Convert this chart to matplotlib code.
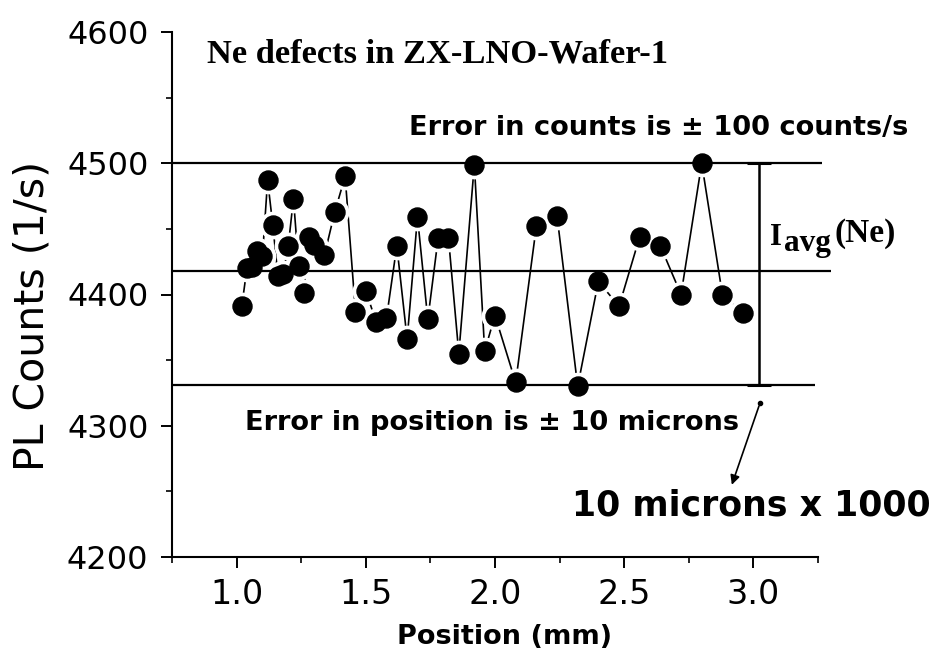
import matplotlib
matplotlib.use('Agg')
import matplotlib.pyplot as plt
from matplotlib.ticker import MultipleLocator

plt.rcParams['font.family'] = 'DejaVu Sans'

# PL counts along the wafer
position = [1.02, 1.04, 1.06, 1.08, 1.10, 1.12, 1.14, 1.16, 1.18, 1.20,
            1.22, 1.24, 1.26, 1.28, 1.30, 1.34, 1.38, 1.42, 1.46, 1.50,
            1.54, 1.58, 1.62, 1.66, 1.70, 1.74, 1.78, 1.82, 1.86, 1.92,
            1.96, 2.00, 2.08, 2.16, 2.24, 2.32, 2.40, 2.48, 2.56, 2.64,
            2.72, 2.80, 2.88, 2.96]
counts = [4391, 4420, 4421, 4433, 4429, 4487, 4453, 4414, 4416, 4437,
          4473, 4422, 4401, 4444, 4438, 4430, 4463, 4490, 4387, 4403,
          4379, 4382, 4437, 4366, 4459, 4381, 4443, 4443, 4355, 4499,
          4357, 4384, 4333, 4452, 4460, 4330, 4410, 4391, 4444, 4437,
          4400, 4500, 4400, 4386]

upper_lim = 4500
avg_level = 4418
lower_lim = 4331
errbar_x = 3.02

xticks = [1.0, 1.5, 2.0, 2.5, 3.0]
yticks = [4200, 4300, 4400, 4500, 4600]

fig = plt.figure(figsize=(9.34, 6.52), dpi=100)
ax = fig.add_axes([172/934, 1-557/652, 646/934, 525/652])

# line with gaps round the markers (white halo under the black dots)
ax.plot(position, counts, color='black', lw=1.2, zorder=1)
ax.plot(position, counts, ls='none', marker='o', ms=20, mfc='white', mec='none', zorder=2)
ax.hlines([upper_lim, avg_level, lower_lim], 0.75, [3.265, 3.30, 3.24],
          colors='black', lw=1.6, zorder=2.5, clip_on=False)
ax.plot(position, counts, ls='none', marker='o', ms=13.7, mfc='black', mec='black', zorder=3)

mid = (upper_lim + lower_lim) / 2
ax.errorbar([errbar_x], [mid], yerr=[(upper_lim - lower_lim) / 2], fmt='none',
            ecolor='black', elinewidth=1.8, capsize=8.5, capthick=2.2, zorder=3, clip_on=False)

ax.set_xlim(0.75, 3.25)
ax.set_ylim(4200, 4600)
ax.set_xticks(xticks)
ax.set_yticks(yticks)
ax.xaxis.set_minor_locator(MultipleLocator(0.25))
ax.yaxis.set_minor_locator(MultipleLocator(50))
for s in ['top', 'right']:
    ax.spines[s].set_visible(False)
for s in ['left', 'bottom']:
    ax.spines[s].set_linewidth(1.5)
ax.tick_params(which='major', direction='out', length=8, width=1.4)
ax.tick_params(which='minor', direction='out', length=4.5, width=1.2)
ax.tick_params(axis='x', labelsize=24, pad=7)
ax.tick_params(axis='y', labelsize=23, pad=9)

ax.set_ylabel('PL Counts (1/s)', fontsize=29.5)
ax.yaxis.set_label_coords(-0.185, 0.46)
ax.set_xlabel('Position (mm)', fontsize=19.5, fontweight='bold')
ax.xaxis.set_label_coords(0.515, -0.128)

serif = 'Liberation Serif'
ax.text(0.884, 4577, 'Ne defects in ZX-LNO-Wafer-1', fontsize=24.8, fontweight='bold',
        family=serif, va='baseline')
ax.text(1.667, 4521.5, 'Error in counts is ± 100 counts/s', fontsize=19.6, fontweight='bold',
        va='baseline')
ax.text(1.031, 4297, 'Error in position is ± 10 microns', fontsize=19.6, fontweight='bold',
        va='baseline', clip_on=False)
ax.text(2.297, 4232, '10 microns x 1000', fontsize=25, fontweight='bold',
        va='baseline', clip_on=False)

# I_avg (Ne) label, subscript drawn as its own text
ax.text(3.066, 4438, 'I', fontsize=22, fontweight='bold', family=serif,
        va='baseline', clip_on=False)
ax.text(3.117, 4433, 'avg', fontsize=22.5, fontweight='bold', family=serif,
        va='baseline', clip_on=False)
ax.text(3.314, 4440, '(Ne)', fontsize=24, fontweight='bold', family=serif,
        va='baseline', clip_on=False)

ax.plot([3.025], [4317], marker='o', ms=3, color='black', clip_on=False)
ax.annotate('', xy=(2.913, 4253), xytext=(3.025, 4317),
            arrowprops=dict(arrowstyle='-|>', lw=1.2, color='black', mutation_scale=14),
            annotation_clip=False)

fig.savefig('out.png', dpi=100)
